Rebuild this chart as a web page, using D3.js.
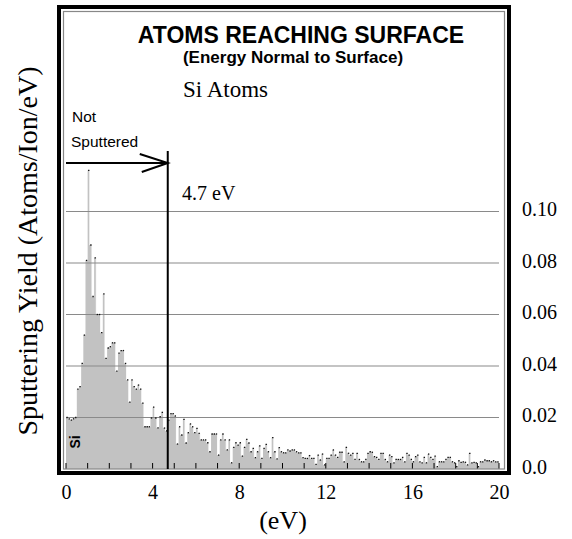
<!DOCTYPE html>
<html>
<head>
<meta charset="utf-8">
<script src="https://cdn.jsdelivr.net/npm/d3@7"></script>
<style>
  body { margin: 0; background: #fff; }
  svg { display: block; }
</style>
</head>
<body>
<div class="content"></div>
<script>
///////////////////////////////////////////////////////////////////
//DATA/////////////////////////////////////////////////////////////
var binWidth = 0.1;   // eV per histogram bin
var yields = [
  0.020, 0.0195, 0.019, 0.0195, 0.020, 0.031, 0.032, 0.041, 0.052, 0.081,
  0.116, 0.087, 0.067, 0.082, 0.060, 0.060, 0.053, 0.068, 0.043, 0.047,
  0.0475, 0.049, 0.049, 0.038, 0.045, 0.046, 0.046, 0.041, 0.0346, 0.026,
  0.0346, 0.032, 0.031, 0.0326, 0.031, 0.0256, 0.0164, 0.0164, 0.0164, 0.0198,
  0.024, 0.0198, 0.016, 0.0203, 0.022, 0.0159, 0.0148, 0.019, 0.0215, 0.0215,
  0.0206, 0.0097, 0.0164, 0.0132, 0.0193, 0.0101, 0.0141, 0.0175, 0.0164, 0.0141,
  0.0158, 0.0138, 0.0113, 0.0113, 0.0113, 0.0102, 0.0067, 0.0136, 0.0136, 0.0136,
  0.0054, 0.0113, 0.0136, 0.0113, 0.0074, 0.0113, 0.0024, 0.0084, 0.0102, 0.0093,
  0.0102, 0.005, 0.0084, 0.0115, 0.0101, 0.0067, 0.008, 0.0044, 0.0067, 0.009,
  0.0041, 0.008, 0.0096, 0.0067, 0.0044, 0.0122, 0.0067, 0.0039, 0.0083, 0.0067,
  0.0063, 0.0063, 0.0074, 0.007, 0.0074, 0.0074, 0.0067, 0.0063, 0.0063, 0.0044,
  0.0041, 0.0041, 0.0052, 0.0041, 0.0041, 0.0018, 0.0054, 0.0035, 0.0058, 0.0016,
  0.0041, 0.0041, 0.0054, 0.0074, 0.0054, 0.0045, 0.0065, 0.0065, 0.0028, 0.0084,
  0.0061, 0.0054, 0.0061, 0.0037, 0.0061, 0.0037, 0.0028, 0.0028, 0.0037, 0.0061,
  0.0067, 0.0065, 0.0048, 0.0045, 0.0037, 0.0061, 0.0061, 0.0037, 0.0028, 0.0054,
  0.0048, 0.0024, 0.0037, 0.0037, 0.0037, 0.0045, 0.0028, 0.0061, 0.0054, 0.0037,
  0.0028, 0.0048, 0.0054, 0.0028, 0.0024, 0.0045, 0.0024, 0.0058, 0.0045, 0.0037,
  0.005, 0.0009, 0.0028, 0.0028, 0.0028, 0.0037, 0.0045, 0.0045, 0.0028, 0.0024,
  0.0009, 0.0032, 0.0026, 0.0028, 0.0026, 0.0016, 0.0061, 0.0024, 0.0026, 0.0024,
  0.0009, 0.0028, 0.0028, 0.0035, 0.0032, 0.0032, 0.0028, 0.0032, 0.0028, 0.0028
];
var xTicks = [0, 4, 8, 12, 16, 20];
var xMinorTicks = d3.range(0, 21, 1);
var yTicks = [0, 0.02, 0.04, 0.06, 0.08, 0.10];
var yTickLabels = ["0.0", "0.02", "0.04", "0.06", "0.08", "0.10"];
var cutoff = 4.7;     // eV, "not sputtered" threshold

///////////////////////////////////////////////////////////////////
//CANVAS///////////////////////////////////////////////////////////
var width = 572, height = 539;
var x = d3.scaleLinear().domain([0, 20]).range([66, 499]);
var y = d3.scaleLinear().domain([0, 0.10]).range([469, 211.5]);

var svg = d3.select(".content").append("svg")
  .attr("width", width).attr("height", height);

var serif = "'Liberation Serif', 'Times New Roman', serif";
var sans = "'Liberation Sans', Arial, sans-serif";

//HISTOGRAM////////////////////////////////////////////////////////
var bins = yields.map(function(v, i){ return { x0: i * binWidth, x1: (i + 1) * binWidth, v: v }; });
var stepPts = bins.concat([{ x0: 20, v: yields[yields.length - 1] }]);

svg.append("path").attr("class", "histfill")
  .datum(stepPts)
  .attr("d", d3.area().curve(d3.curveStepAfter)
    .x(function(d){ return x(d.x0); })
    .y0(y(0))
    .y1(function(d){ return y(d.v); }))
  .attr("fill", "#c2c2c2");

// white edges on the drops
svg.append("g").attr("class", "edges")
  .selectAll("line").data(bins.slice(1).filter(function(d, i){ return d.v < bins[i].v; }))
  .enter().append("line")
  .attr("x1", function(d){ return x(d.x0); })
  .attr("x2", function(d){ return x(d.x0); })
  .attr("y1", function(d){ return y(bins[Math.round(d.x0 / binWidth) - 1].v); })
  .attr("y2", function(d){ return y(d.v); })
  .attr("stroke", "#fff").attr("stroke-width", 0.9);

//GRIDLINES////////////////////////////////////////////////////////
svg.append("g").attr("class", "grid")
  .selectAll("line").data(yTicks.slice(1))
  .enter().append("line")
  .attr("x1", x(0)).attr("x2", x(20))
  .attr("y1", function(d){ return y(d); })
  .attr("y2", function(d){ return y(d); })
  .attr("stroke", "#8a8a8a").attr("stroke-width", 1.2);

// black caps on each bar top
svg.append("g").attr("class", "caps")
  .selectAll("line").data(bins)
  .enter().append("line")
  .attr("x1", function(d){ return x(d.x0) + 0.4; })
  .attr("x2", function(d){ return x(d.x1) - 0.4; })
  .attr("y1", function(d){ return y(d.v); })
  .attr("y2", function(d){ return y(d.v); })
  .attr("stroke", "#111").attr("stroke-width", 1.3);

//AXES/////////////////////////////////////////////////////////////
svg.append("g").attr("class", "minorticks")
  .selectAll("line").data(xMinorTicks)
  .enter().append("line")
  .attr("x1", function(d){ return x(d); }).attr("x2", function(d){ return x(d); })
  .attr("y1", y(0) - 6).attr("y2", y(0))
  .attr("stroke", "#000").attr("stroke-width", 1);

var xAxis = svg.append("g").attr("transform", "translate(0,482)")
  .call(d3.axisBottom(x).tickValues(xTicks).tickSize(0).tickFormat(d3.format("d")));
xAxis.select(".domain").remove();
xAxis.selectAll("text").attr("font-family", serif).attr("font-size", 20).attr("fill", "#000");

var yAxis = svg.append("g").attr("transform", "translate(518,0)")
  .call(d3.axisRight(y).tickValues(yTicks).tickSize(0)
    .tickFormat(function(d, i){ return yTickLabels[i]; }));
yAxis.select(".domain").remove();
yAxis.selectAll("text").attr("font-family", serif).attr("font-size", 20)
  .attr("fill", "#000").attr("dy", "0.2em").attr("x", 4);

//FRAME////////////////////////////////////////////////////////////
svg.append("rect").attr("x", 59).attr("y", 7).attr("width", 450).attr("height", 466)
  .attr("fill", "none").attr("stroke", "#000").attr("stroke-width", 4);
svg.append("rect").attr("x", 63.5).attr("y", 11.5).attr("width", 441).attr("height", 457.5)
  .attr("fill", "none").attr("stroke", "#888").attr("stroke-width", 1.2);

//CUTOFF LINE + ARROW//////////////////////////////////////////////
svg.append("line")
  .attr("x1", x(cutoff)).attr("x2", x(cutoff))
  .attr("y1", 151).attr("y2", y(0))
  .attr("stroke", "#000").attr("stroke-width", 2);

svg.append("line")
  .attr("x1", x(0)).attr("x2", x(cutoff))
  .attr("y1", 163).attr("y2", 163)
  .attr("stroke", "#000").attr("stroke-width", 2);

svg.append("path")
  .attr("d", "M" + (x(cutoff) - 28) + ",154 L" + x(cutoff) + ",163 L" + (x(cutoff) - 26) + ",172")
  .attr("fill", "none").attr("stroke", "#000").attr("stroke-width", 2);

//TEXT/////////////////////////////////////////////////////////////
svg.append("text").attr("x", 301).attr("y", 43).attr("text-anchor", "middle")
  .attr("font-family", sans).attr("font-weight", "bold").attr("font-size", 23)
  .text("ATOMS REACHING SURFACE");
svg.append("text").attr("x", 293).attr("y", 63).attr("text-anchor", "middle")
  .attr("font-family", sans).attr("font-weight", "bold").attr("font-size", 17)
  .text("(Energy Normal to Surface)");
svg.append("text").attr("x", 183).attr("y", 97)
  .attr("font-family", serif).attr("font-size", 23)
  .text("Si Atoms");
svg.append("text").attr("x", 72).attr("y", 122)
  .attr("font-family", sans).attr("font-size", 15.5)
  .text("Not");
svg.append("text").attr("x", 71).attr("y", 147)
  .attr("font-family", sans).attr("font-size", 15.5)
  .text("Sputtered");
svg.append("text").attr("x", 182).attr("y", 200)
  .attr("font-family", serif).attr("font-size", 20)
  .text("4.7 eV");
svg.append("text").attr("transform", "translate(80,442) rotate(-90)")
  .attr("text-anchor", "middle")
  .attr("font-family", sans).attr("font-weight", "bold").attr("font-size", 14)
  .text("Si");

svg.append("text").attr("x", 283).attr("y", 529).attr("text-anchor", "middle")
  .attr("font-family", serif).attr("font-size", 26)
  .text("(eV)");
svg.append("text").attr("transform", "translate(37,251) rotate(-90)")
  .attr("text-anchor", "middle")
  .attr("font-family", serif).attr("font-size", 28)
  .text("Sputtering Yield (Atoms/Ion/eV)");
</script>
</body>
</html>
